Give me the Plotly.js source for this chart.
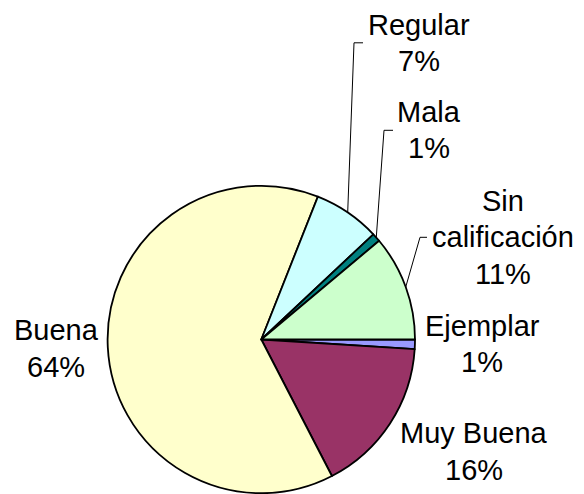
<!DOCTYPE html>
<html>
<head>
<meta charset="utf-8">
<script src="https://cdn.plot.ly/plotly-3.0.1.min.js"></script>
<style>html,body{margin:0;padding:0;background:#fff;}#chart{width:584px;height:494px;}</style>
</head>
<body>
<div id="chart"></div>
<script>
// ---- data ----
const categories = ['Ejemplar', 'Muy Buena', 'Buena', 'Regular', 'Mala', 'Sin calificación'];
const values = [1.0, 16.4, 63.6, 7.0, 0.9, 11.1];
const labelText = [['Ejemplar'], ['Muy Buena'], ['Buena'], ['Regular'], ['Mala'], ['Sin', 'calificación']];

// ---- styles / layout ----
const colors = ['#9999FF', '#993366', '#FFFFCC', '#CCFFFF', '#008080', '#CCFFCC'];
const W = 584, H = 494;
const cx = 261.3, cy = 339.5, R = 153.7;
const rotation = 90;
const LINE = 36.3;
const labelPos = {
  'Ejemplar': {x: 482, y: 344},
  'Muy Buena': {x: 474, y: 451.5},
  'Buena': {x: 56, y: 348.5},
  'Regular': {x: 419, y: 42.8, leader: [363, 354]},
  'Mala': {x: 429, y: 130.3, leader: [393, 384]},
  'Sin calificación': {x: 503, y: 237.3, leader: [427, 420]}
};
const FONT = {family: 'Arial, "Liberation Sans", sans-serif', size: 29, color: '#000'};

const px = x => x / W;
const py = y => 1 - y / H;

const total = values.reduce((a, b) => a + b, 0);
const annotations = [];
const shapes = [];
let cum = 0;
categories.forEach((c, i) => {
  const mid = rotation + (cum + values[i] / 2) / total * 360;
  cum += values[i];
  const pct = Math.round(values[i] / total * 100) + '%';
  const p = labelPos[c];
  const lines = labelText[i].concat([pct]);
  lines.forEach((t, k) => {
    const ly = p.y + (k - (lines.length - 1) / 2) * LINE;
    annotations.push({
      xref: 'paper', yref: 'paper', x: px(p.x), y: py(ly),
      xanchor: 'center', yanchor: 'middle', showarrow: false,
      text: t, font: FONT, align: 'center'
    });
  });
  if (p.leader) {
    const a = mid * Math.PI / 180;
    const ex = cx + R * Math.sin(a), ey = cy - R * Math.cos(a);
    shapes.push({
      type: 'path', xref: 'paper', yref: 'paper',
      path: `M ${px(p.leader[0])} ${py(p.y)} L ${px(p.leader[1])} ${py(p.y)} L ${px(ex)} ${py(ey)}`,
      line: {color: '#000', width: 1}
    });
  }
});

const trace = {
  type: 'pie',
  labels: categories,
  values: values,
  sort: false,
  direction: 'clockwise',
  rotation: rotation,
  textinfo: 'none',
  hoverinfo: 'label+percent',
  marker: {colors: colors, line: {color: '#000', width: 1.8}},
  domain: {x: [px(cx - R), px(cx + R)], y: [py(cy + R), py(cy - R)]},
  showlegend: false
};

const layout = {
  width: W, height: H,
  margin: {l: 0, r: 0, t: 0, b: 0},
  paper_bgcolor: '#fff',
  showlegend: false,
  annotations: annotations,
  shapes: shapes
};

Plotly.newPlot('chart', [trace], layout, {displayModeBar: false, staticPlot: true});
</script>
</body>
</html>
